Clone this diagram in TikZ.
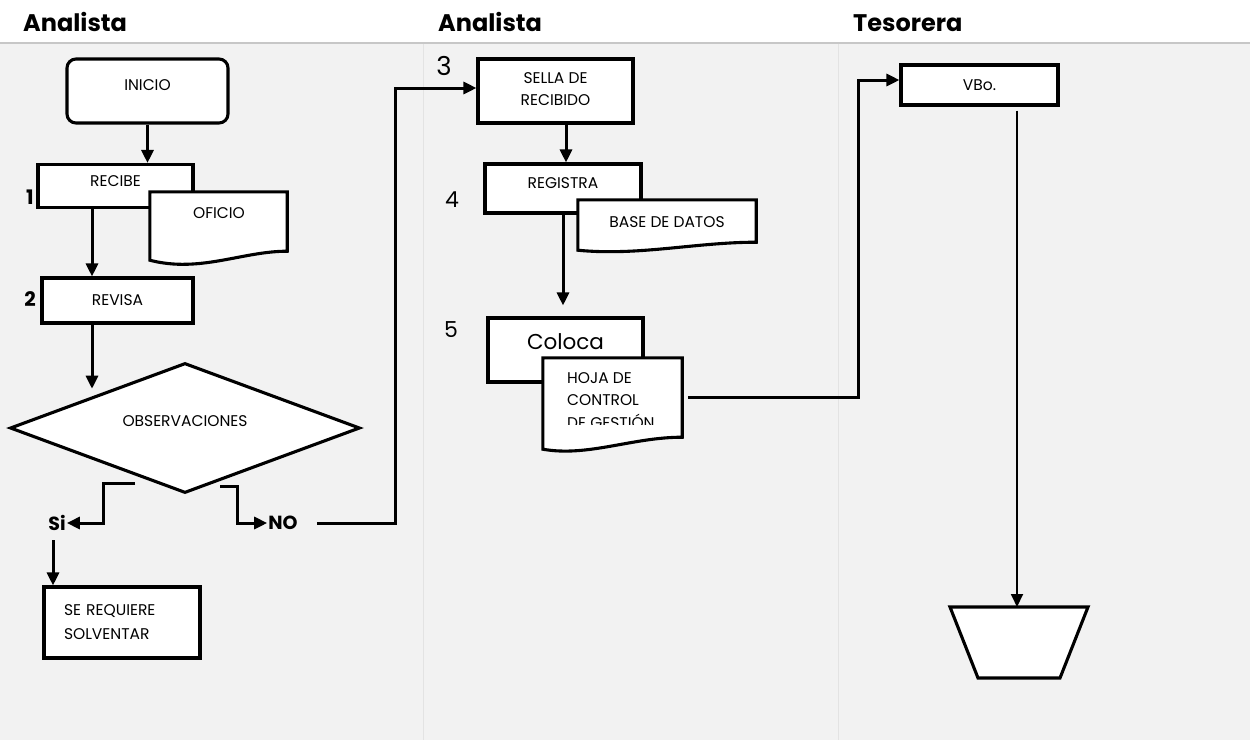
\documentclass[tikz,border=0pt]{standalone}
\usepackage{fontspec}
\setmainfont{Poppins}
\usetikzlibrary{arrows.meta,shapes.geometric,calc}
\begin{document}
\begin{tikzpicture}[x=1pt,y=-1pt,
  box/.style={draw=black, line width=3.1pt, fill=white, inner sep=2pt, font=\fontsize{15.5}{22}\selectfont},
  txt/.style={inner sep=0pt, font=\fontsize{15.5}{22}\selectfont},
  hdr/.style={inner sep=0pt, anchor=base west, font=\fontsize{24}{26}\selectfont\bfseries},
  num/.style={inner sep=0pt, font=\fontsize{22}{24}\selectfont},
  bnum/.style={inner sep=0pt, font=\fontsize{20}{24}\selectfont\bfseries},
  ghost/.style={inner sep=0pt, draw=none},
  arr/.style={line width=3pt, -{Triangle[length=13pt,width=12pt]}},
  docline/.style={draw=black, line width=3.1pt, fill=white, line join=miter}
]
\useasboundingbox (0,0) rectangle (1250,740);
% background
\fill[white] (0,0) rectangle (1250,43);
\fill[black!5] (0,43) rectangle (1250,740);
\draw[black!22, line width=2pt] (0,43) -- (1250,43);
\draw[black!11, line width=0.8pt] (423,44) -- (423,740);
\draw[black!11, line width=0.8pt] (838,44) -- (838,740);

% headers
\node[hdr] (h1) at (23,31) {Analista};
\node[hdr] (h2) at (438,31) {Analista};
\node[hdr] (h3) at (853,31) {Tesorera};

% ---- lane 1
\node[box, rounded corners=9pt, minimum width=161pt, minimum height=64pt, text depth=12pt] (inicio) at (147.5,91) {INICIO};
\node[box, minimum width=155pt, minimum height=43pt, text depth=10pt] (recibe) at (115.5,186) {RECIBE};
\node[bnum] (n1) at (30,197) {1};
% OFICIO document
\node[ghost, minimum width=137pt, minimum height=59pt] (oficio) at (218.5,221.5) {};
\filldraw[docline] (oficio.north west) -- (oficio.north east) -- (oficio.south east)
  .. controls ($(oficio.south east)+(-45,0)$) and ($(oficio.south west)+(50,22)$) .. ($(oficio.south west)+(0,9)$) -- cycle;
\node[txt] (oficiotxt) at (219,213) {OFICIO};

\node[box, minimum width=151pt, minimum height=45pt] (revisa) at (117.5,300.5) {REVISA};
\node[bnum] (n2) at (30,299) {2};
\draw[arr] (inicio.south) -- (inicio.south |- recibe.north);
\coordinate (rx) at (92,0);
\draw[arr] (recibe.south -| rx) -- (revisa.north -| rx);

\node[box, diamond, aspect=2.7, minimum width=350pt, minimum height=130pt, inner sep=0pt, text depth=14pt] (obs) at (185,428) {OBSERVACIONES};
\draw[arr] (revisa.south -| rx) -- ([yshift=6pt]obs.north west -| rx);

\node[inner sep=1pt, font=\fontsize{19}{22}\selectfont\bfseries] (si) at (57,523) {Si};
\node[inner sep=1pt, font=\fontsize{19}{22}\selectfont\bfseries] (no) at (283,523) {NO};
\coordinate (sistart) at ([shift={(-50,55)}]obs.center);
\coordinate (nostart) at ([shift={(35,58)}]obs.center);
\draw[arr] (sistart) -- ++(-32,0) |- (si.east);
\draw[arr] (nostart) -- ++(17,0) |- (no.west);

\node[box, minimum width=156pt, minimum height=71pt, text width=116pt, align=left, font=\fontsize{15.5}{24}\selectfont] (sereq) at (122,622.5) {SE REQUIERE\\SOLVENTAR};
\coordinate (siout) at ([shift={(-4,17)}]si.center);
\draw[arr] (siout) -- (siout |- sereq.north);

% ---- lane 2
\node[box, minimum width=155pt, minimum height=64pt, align=center, font=\fontsize{15.5}{22}\selectfont, text depth=4pt] (sella) at (555.5,91) {SELLA DE\\RECIBIDO};
\node[num, font=\fontsize{26}{28}\selectfont] (n3) at (444,66) {3};
\coordinate (noout) at ([xshift=18pt]no.east);
\draw[arr] (noout) -| ($(sella.west)+(-81,-3)$) -- ($(sella.west)+(0,-3)$);

\node[box, minimum width=156pt, minimum height=49pt, text depth=10pt] (registra) at (563,188.5) {REGISTRA};
\node[num] (n4) at (452,200) {4};
\draw[arr] ([xshift=10.5pt]sella.south) -- ([xshift=3pt]registra.north);
% BASE DE DATOS document
\node[ghost, minimum width=178pt, minimum height=42pt] (bd) at (667,221) {};
\filldraw[docline] (bd.north west) -- (bd.north east) -- (bd.south east)
  .. controls ($(bd.south east)+(-60,0)$) and ($(bd.south west)+(60,14)$) .. ($(bd.south west)+(0,8)$) -- cycle;
\node[txt] (bdtxt) at (667,222) {BASE DE DATOS};

\node[box, minimum width=155pt, minimum height=64pt, font=\fontsize{21.5}{24}\selectfont, text depth=16pt] (coloca) at (565.5,350) {Coloca};
\node[num] (n5) at (451,330) {5};
\draw[arr] (registra.south) -- ([yshift=11pt]registra.south |- coloca.north);
% HOJA DE CONTROL document
\node[ghost, minimum width=139pt, minimum height=79pt] (hoja) at (612.5,397.5) {};
\filldraw[docline] (hoja.north west) -- (hoja.north east) -- (hoja.south east)
  .. controls ($(hoja.south east)+(-50,0)$) and ($(hoja.south west)+(45,20)$) .. ($(hoja.south west)+(0,12)$) -- cycle;
\begin{scope}
\clip ($(hoja.north west)+(3,3)$) rectangle (679,424);
\node[txt, anchor=north west, align=left, font=\fontsize{15.5}{22.5}\selectfont] (hojatxt) at (567,372) {HOJA DE\\CONTROL\\DE GESTIÓN};
\end{scope}

% ---- lane 3
\node[box, minimum width=157pt, minimum height=40pt] (vbo) at (979.5,85) {VBo.};
\coordinate (hojaout) at ([xshift=6pt]hoja.east);
\draw[arr] (hojaout) -| ($(vbo.west)+(-41,-5)$) -- ($(vbo.west)+(0,-5)$);

\coordinate (fin) at (1017,607);
\filldraw[docline] (950,607) -- (1088,607) -- (1060,678) -- (978,678) -- cycle;
\draw[line width=1.8pt, -{Triangle[length=13pt,width=12pt]}] ([shift={(37.5,4)}]vbo.south) -- (fin);
\end{tikzpicture}
\end{document}
